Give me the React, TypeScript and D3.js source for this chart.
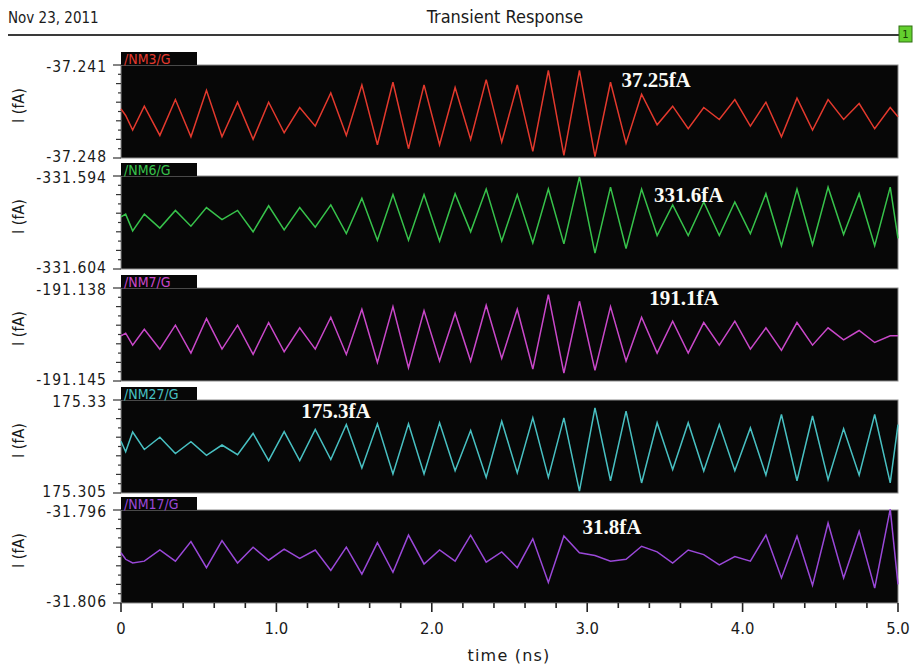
import { useEffect, useRef } from "react";
import * as d3 from "d3";

// sample times (ns)
const timeNs = [
  0, 0.03, 0.075, 0.15, 0.25, 0.35, 0.45, 0.55, 0.65, 0.75, 0.85, 0.95, 1.05, 1.15, 1.25, 1.35, 1.45, 1.55,
  1.65, 1.75, 1.85, 1.95, 2.05, 2.15, 2.25, 2.35, 2.45, 2.55, 2.65, 2.75, 2.85, 2.95, 3.05, 3.15, 3.25, 3.35,
  3.45, 3.55, 3.65, 3.75, 3.85, 3.95, 4.05, 4.15, 4.25, 4.35, 4.45, 4.55, 4.65, 4.75, 4.85, 4.95, 5.0,
];

// currents (fA)
const nm3 = [
  -37.2443, -37.2448, -37.2459, -37.2441, -37.2463, -37.2436, -37.2464, -37.2429, -37.2464, -37.2438, -37.2466,
  -37.2438, -37.2461, -37.2442, -37.2456, -37.2431, -37.2463, -37.2425, -37.247, -37.2423, -37.2473, -37.2425,
  -37.247, -37.2427, -37.2466, -37.2421, -37.2468, -37.2425, -37.2475, -37.2414, -37.2478, -37.2414, -37.2479,
  -37.2423, -37.2469, -37.2432, -37.2455, -37.2441, -37.2458, -37.2442, -37.2451, -37.2436, -37.2456, -37.2438,
  -37.2464, -37.2435, -37.2459, -37.2436, -37.2451, -37.2439, -37.2458, -37.2442, -37.2449,
];
const nm6 = [
  -331.5984, -331.5981, -331.5999, -331.5981, -331.5996, -331.5977, -331.5994, -331.5974, -331.5987, -331.5977,
  -331.6, -331.5972, -331.5998, -331.5974, -331.5995, -331.5971, -331.6002, -331.5964, -331.6009, -331.596,
  -331.6009, -331.596, -331.601, -331.5959, -331.6, -331.5954, -331.601, -331.596, -331.6012, -331.5954,
  -331.6013, -331.5941, -331.6023, -331.5952, -331.6018, -331.5954, -331.6004, -331.5971, -331.6004, -331.5968,
  -331.6004, -331.5968, -331.6002, -331.5959, -331.6015, -331.5954, -331.6014, -331.5952, -331.6003, -331.5959,
  -331.6015, -331.5952, -331.6007,
];
const nm7 = [
  -191.1416, -191.1414, -191.1423, -191.1411, -191.1426, -191.1408, -191.1429, -191.1403, -191.1426, -191.1408,
  -191.143, -191.1406, -191.1428, -191.141, -191.1426, -191.1402, -191.143, -191.1396, -191.1436, -191.1394,
  -191.144, -191.1397, -191.1435, -191.1399, -191.1435, -191.1393, -191.1433, -191.1396, -191.1441, -191.1385,
  -191.1444, -191.139, -191.1442, -191.1394, -191.1435, -191.1402, -191.1429, -191.1405, -191.1429, -191.1406,
  -191.1423, -191.1405, -191.1426, -191.141, -191.1427, -191.1406, -191.1423, -191.141, -191.1419, -191.1412,
  -191.1421, -191.1416, -191.1416,
];
const nm27 = [
  175.3189, 175.3161, 175.3214, 175.3167, 175.32, 175.3156, 175.3188, 175.3151, 175.3179, 175.3153, 175.321,
  175.3137, 175.3215, 175.3137, 175.3221, 175.314, 175.3234, 175.3117, 175.3236, 175.3101, 175.3236, 175.3101,
  175.3239, 175.311, 175.3218, 175.3092, 175.3243, 175.3104, 175.3252, 175.3092, 175.3252, 175.3055, 175.3279,
  175.3083, 175.327, 175.3077, 175.3239, 175.3113, 175.3239, 175.3109, 175.3234, 175.311, 175.3225, 175.3098,
  175.3261, 175.3083, 175.3257, 175.3086, 175.3223, 175.3098, 175.3261, 175.3077, 175.3234,
];
const nm17 = [
  -31.8006, -31.8013, -31.8017, -31.8015, -31.8003, -31.8015, -31.7994, -31.8022, -31.7993, -31.8017, -31.8,
  -31.8014, -31.8002, -31.8012, -31.8003, -31.8025, -31.8, -31.8029, -31.7995, -31.8027, -31.7987, -31.8018,
  -31.8003, -31.8015, -31.7987, -31.8016, -31.8005, -31.8022, -31.7991, -31.8038, -31.7988, -31.8006, -31.8009,
  -31.8015, -31.8013, -31.7999, -31.8005, -31.8017, -31.8003, -31.8008, -31.8019, -31.801, -31.8015, -31.7987,
  -31.8033, -31.7988, -31.8041, -31.7974, -31.8033, -31.7983, -31.8044, -31.7959, -31.804,
];

const signalNames = ["/NM3/G", "/NM6/G", "/NM7/G", "/NM27/G", "/NM17/G"];
const signalColors = ["#e3392d", "#37c24b", "#c948c9", "#48c0c2", "#9a48d8"];
const yTop = [-37.241, -331.594, -191.138, 175.33, -31.796];
const yBottom = [-37.248, -331.604, -191.145, 175.305, -31.806];
const yTopLabels = ["-37.241", "-331.594", "-191.138", "175.33", "-31.796"];
const yBottomLabels = ["-37.248", "-331.604", "-191.145", "175.305", "-31.806"];
const noteText = ["37.25fA", "331.6fA", "191.1fA", "175.3fA", "31.8fA"];
const noteTime = [3.22, 3.43, 3.4, 1.16, 2.97];
const xTickLabels = ["0", "1.0", "2.0", "3.0", "4.0", "5.0"];

const seriesValues = [nm3, nm6, nm7, nm27, nm17];

const W = 916;
const H = 668;
const panelTops = [65, 176, 288, 400, 510];
const panelH = 93;
const noteDy = [15, 19, 10, 11, 17];
const cond = "'DejaVu Sans Condensed', 'DejaVu Sans', sans-serif";
const ink = "#1a1a1a";

const App = () => {
  const svgRef = useRef<SVGSVGElement>(null);

  useEffect(() => {
    const svg = d3.select(svgRef.current);
    svg.selectAll("*").remove();

    svg.append("rect").attr("width", W).attr("height", H).attr("fill", "#fff");

    const x = d3.scaleLinear().domain([0, 5]).range([121, 898]);

    // header
    svg
      .append("text")
      .attr("x", 8)
      .attr("y", 18)
      .attr("dominant-baseline", "central")
      .attr("font-family", cond)
      .attr("font-size", 15)
      .attr("fill", ink)
      .text("Nov 23, 2011");
    svg
      .append("text")
      .attr("x", 505)
      .attr("y", 16)
      .attr("text-anchor", "middle")
      .attr("dominant-baseline", "central")
      .attr("font-family", cond)
      .attr("font-size", 18)
      .attr("fill", ink)
      .text("Transient Response");
    svg
      .append("line")
      .attr("x1", 8)
      .attr("x2", 899)
      .attr("y1", 35)
      .attr("y2", 35)
      .attr("stroke", "#3a3a3a")
      .attr("stroke-width", 2);
    svg
      .append("rect")
      .attr("x", 899)
      .attr("y", 26)
      .attr("width", 13)
      .attr("height", 16)
      .attr("fill", "#63cf2e")
      .attr("stroke", "#2f6e12");
    svg
      .append("text")
      .attr("x", 905.5)
      .attr("y", 34.5)
      .attr("text-anchor", "middle")
      .attr("dominant-baseline", "central")
      .attr("font-family", cond)
      .attr("font-size", 11)
      .attr("fill", "#173d05")
      .text("1");

    seriesValues.forEach((values, i) => {
      const top = panelTops[i];
      const bottom = top + panelH;
      const y = d3.scaleLinear().domain([yBottom[i], yTop[i]]).range([bottom, top]);
      const g = svg.append("g");

      g.append("rect")
        .attr("x", 121)
        .attr("y", top)
        .attr("width", 777)
        .attr("height", panelH)
        .attr("fill", "#070707")
        .attr("stroke", "#8c8c8c");

      // name tab
      g.append("rect").attr("x", 121).attr("y", top - 13).attr("width", 76).attr("height", 13).attr("fill", "#070707");
      g.append("text")
        .attr("x", 124)
        .attr("y", top - 1.5)
        .attr("font-family", cond)
        .attr("font-size", 14)
        .attr("fill", signalColors[i])
        .text(signalNames[i]);

      // y ticks
      const ticks = d3.range(11).map((k) => yBottom[i] + ((yTop[i] - yBottom[i]) * k) / 10);
      g.selectAll(".ytick")
        .data(ticks)
        .enter()
        .append("line")
        .attr("x1", 121)
        .attr("x2", (d, k) => (k === 0 || k === 10 ? 113 : k % 2 === 0 ? 116 : 118))
        .attr("y1", (d) => y(d))
        .attr("y2", (d) => y(d))
        .attr("stroke", "#333")
        .attr("stroke-width", 1.2);

      g.append("text")
        .attr("x", 107)
        .attr("y", top + 2)
        .attr("text-anchor", "end")
        .attr("dominant-baseline", "central")
        .attr("font-family", cond)
        .attr("font-size", 15.5)
        .attr("letter-spacing", 1)
        .attr("fill", ink)
        .text(yTopLabels[i]);
      g.append("text")
        .attr("x", 107)
        .attr("y", bottom - 1)
        .attr("text-anchor", "end")
        .attr("dominant-baseline", "central")
        .attr("font-family", cond)
        .attr("font-size", 15.5)
        .attr("letter-spacing", 1)
        .attr("fill", ink)
        .text(yBottomLabels[i]);

      g.append("text")
        .attr("transform", `translate(18, ${top + panelH / 2 - 6}) rotate(-90)`)
        .attr("text-anchor", "middle")
        .attr("dominant-baseline", "central")
        .attr("font-family", cond)
        .attr("font-size", 16)
        .attr("fill", ink)
        .text("I (fA)");

      const line = d3
        .line<number>()
        .x((d, k) => x(timeNs[k]))
        .y((d) => y(d));

      g.append("path")
        .datum(values)
        .attr("d", line)
        .attr("fill", "none")
        .attr("stroke", signalColors[i])
        .attr("stroke-width", 1.5);

      g.append("text")
        .attr("x", x(noteTime[i]))
        .attr("y", top + noteDy[i])
        .attr("dominant-baseline", "central")
        .attr("font-family", "'Liberation Serif', 'Times New Roman', serif")
        .attr("font-weight", "bold")
        .attr("font-size", 21)
        .attr("fill", "#fbfbf6")
        .text(noteText[i]);
    });

    // time axis
    const axisY = panelTops[4] + panelH;
    const xt = x.ticks(25);
    svg
      .append("g")
      .selectAll("line")
      .data(xt)
      .enter()
      .append("line")
      .attr("x1", (d) => x(d))
      .attr("x2", (d) => x(d))
      .attr("y1", axisY)
      .attr("y2", (d) => (Math.abs(d - Math.round(d)) < 1e-6 ? axisY + 9 : axisY + 5))
      .attr("stroke", "#222")
      .attr("stroke-width", 1.6);
    svg
      .append("g")
      .selectAll("text")
      .data(xTickLabels)
      .enter()
      .append("text")
      .attr("x", (d, k) => x(k))
      .attr("y", 628)
      .attr("text-anchor", "middle")
      .attr("dominant-baseline", "central")
      .attr("font-family", cond)
      .attr("font-size", 16.5)
      .attr("fill", ink)
      .text((d) => d);
    svg
      .append("text")
      .attr("x", 509)
      .attr("y", 655)
      .attr("text-anchor", "middle")
      .attr("dominant-baseline", "central")
      .attr("font-family", "'DejaVu Sans', sans-serif")
      .attr("font-size", 16)
      .attr("letter-spacing", 1.2)
      .attr("fill", ink)
      .text("time (ns)");
  }, []);

  return <svg ref={svgRef} width={W} height={H} style={{ position: "absolute", left: 0, top: 0 }} />;
};

export default App;
